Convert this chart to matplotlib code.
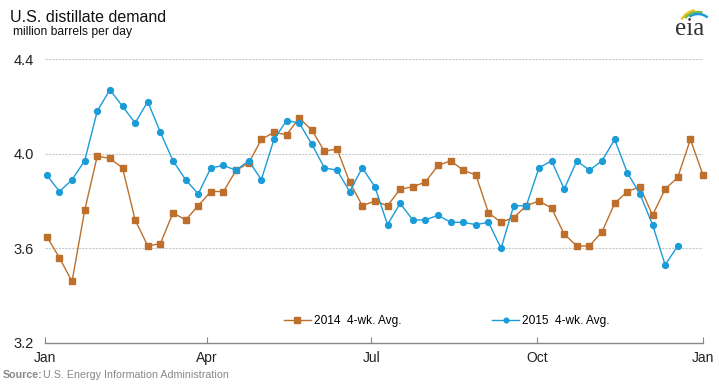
import matplotlib
matplotlib.use("Agg")
import matplotlib.pyplot as plt
from matplotlib.patches import Arc
import pandas as pd

plt.rcParams["font.family"] = ["Liberation Sans", "DejaVu Sans"]

# weekly 4-week averages, million barrels per day
demand_2014 = [3.65, 3.56, 3.46, 3.76, 3.99, 3.98, 3.94, 3.72, 3.61, 3.62,
               3.75, 3.72, 3.78, 3.84, 3.84, 3.93, 3.96, 4.06, 4.09, 4.08,
               4.15, 4.10, 4.01, 4.02, 3.88, 3.78, 3.80, 3.78, 3.85, 3.86,
               3.88, 3.95, 3.97, 3.93, 3.91, 3.75, 3.71, 3.73, 3.78, 3.80,
               3.77, 3.66, 3.61, 3.61, 3.67, 3.79, 3.84, 3.86, 3.74, 3.85,
               3.90, 4.06, 3.91]
demand_2015 = [3.91, 3.84, 3.89, 3.97, 4.18, 4.27, 4.20, 4.13, 4.22, 4.09,
               3.97, 3.89, 3.83, 3.94, 3.95, 3.93, 3.97, 3.89, 4.06, 4.14,
               4.13, 4.04, 3.94, 3.93, 3.84, 3.94, 3.86, 3.70, 3.79, 3.72,
               3.72, 3.74, 3.71, 3.71, 3.70, 3.71, 3.60, 3.78, 3.78, 3.94,
               3.97, 3.85, 3.97, 3.93, 3.97, 4.06, 3.92, 3.83, 3.70, 3.53,
               3.61]
weeks = pd.date_range("2015-01-02", periods=len(demand_2014), freq="7D")
month_ticks = pd.to_datetime(["2015-01-01", "2015-04-01", "2015-07-01",
                              "2015-10-01", "2016-01-01"])
month_labels = ["Jan", "Apr", "Jul", "Oct", "Jan"]
y_ticks = [3.2, 3.6, 4.0, 4.4]

orange = "#BD6F2B"
blue = "#1B9CD8"

fig = plt.figure(figsize=(7.19, 3.86), dpi=100)
ax = fig.add_axes([45 / 719, 1 - 343 / 386, 658 / 719, 284 / 386])

ax.plot(weeks, demand_2014, color=orange, lw=1.0, marker="s", ms=4.6,
        mec=orange, mfc=orange, label="2014  4-wk. Avg.", zorder=3, clip_on=False)
ax.plot(weeks[:len(demand_2015)], demand_2015, color=blue, lw=1.0, marker="o",
        ms=4.2, mec=blue, mfc=blue, label="2015  4-wk. Avg.", zorder=4, clip_on=False)

ax.set_xlim(month_ticks[0], month_ticks[-1])
ax.set_ylim(3.2, 4.4)
ax.set_xticks(month_ticks)
ax.set_xticklabels(month_labels, fontsize=10)
ax.set_yticks(y_ticks)
ax.set_yticklabels([f"{v:.1f}" for v in y_ticks], fontsize=10.5, color="#222222")
ax.tick_params(axis="x", direction="in", length=4, color="#888888", pad=6, colors="#222222")
ax.tick_params(axis="y", length=0, pad=8)

for v in y_ticks[1:]:
    ax.axhline(v, color="#C8C8C8", lw=0.8, ls=(0, (2, 1)), zorder=1)
for s in ["top", "right", "left"]:
    ax.spines[s].set_visible(False)
ax.spines["bottom"].set_color("#888888")
ax.spines["bottom"].set_linewidth(1.0)

ax.legend(loc="center", bbox_to_anchor=(447 / 719, 1 - 321 / 386), bbox_transform=fig.transFigure,
          ncol=2, frameon=False, fontsize=8.6, handlelength=2.2, handletextpad=0.3,
          columnspacing=7.6, markerscale=0.8)

fig.text(10 / 719, 1 - 17 / 386, "U.S. distillate demand", fontsize=11.5,
         va="center", ha="left", color="#111111")
fig.text(13 / 719, 1 - 32 / 386, "million barrels per day", fontsize=8.7,
         va="center", ha="left", color="#111111")
fig.text(3 / 719, 1 - 375 / 386, "Source:", fontsize=7.7, fontweight="bold",
         va="center", ha="left", color="#888888")
fig.text(43 / 719, 1 - 375 / 386, "U.S. Energy Information Administration",
         fontsize=7.7, va="center", ha="left", color="#888888")

# eia logo, drawn in pixel units of the top-right corner (y grows downward)
lax = fig.add_axes([660 / 719, 1 - 45 / 386, 55 / 719, 45 / 386])
lax.set_xlim(660, 715)
lax.set_ylim(45, 0)
lax.axis("off")
lax.text(690, 29, "eia", fontsize=18, family="Liberation Serif", ha="center",
         va="center", color="#333333")
for r, t1, t2, c in zip([19, 17, 15], [-150, -140, -125], [-100, -75, -50],
                        ["#F3C221", "#7DBB42", "#1B9CD8"]):
    lax.add_patch(Arc((698, 29), 2 * r, 2 * r, theta1=t1, theta2=t2, color=c, lw=1.8))

fig.savefig("out.png", dpi=100)
